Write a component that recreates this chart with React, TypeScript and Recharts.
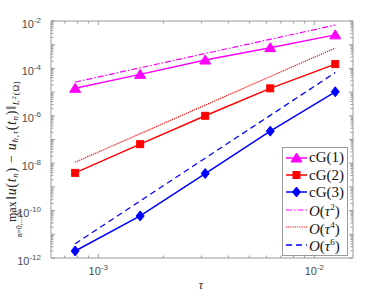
import { LineChart, Line, XAxis, YAxis, Legend, ReferenceLine } from "recharts";

// time step sizes
const tau = [0.00078125, 0.0015625, 0.003125, 0.00625, 0.0125];

// errors for each scheme
const cg1 = [1.44e-5, 5.6e-5, 2.25e-4, 7.5e-4, 2.6e-3];
const cg2 = [3.9e-9, 6.35e-8, 1.0e-6, 1.44e-5, 1.52e-4];
const cg3 = [1.98e-12, 5.96e-11, 3.66e-9, 2.25e-7, 1.03e-5];

// reference slopes
const ord2 = [2.65e-5, 1.06e-4, 4.24e-4, 1.69e-3, 6.78e-3];
const ord4 = [1.1e-8, 1.77e-7, 2.83e-6, 4.52e-5, 7.23e-4];
const ord6 = [3.98e-12, 2.54e-10, 1.63e-8, 1.04e-6, 6.67e-5];

const xTicks = [7e-4, 8e-4, 9e-4, 1e-3, 2e-3, 3e-3, 4e-3, 5e-3, 6e-3, 7e-3, 8e-3, 9e-3, 1e-2];
const yDecades = [-12, -11, -10, -9, -8, -7, -6, -5, -4, -3];
const yLabelled = [-12, -10, -8, -6, -4, -2];
const mantissas = [1, 2, 3, 4, 5, 6, 7, 8, 9];

const yTicks = [
  ...yDecades.flatMap((e) => mantissas.map((m) => Number((m * Math.pow(10, e)).toPrecision(3)))),
  1e-2,
];

const data = tau.map((t, i) => ({
  tau: t,
  cg1: cg1[i],
  cg2: cg2[i],
  cg3: cg3[i],
  ord2: ord2[i],
  ord4: ord4[i],
  ord6: ord6[i],
}));

const W = 389;
const H = 292;
const M = { top: 21, right: 36, bottom: 0, left: 0 };
const Y_AXIS_W = 51;
const X_AXIS_H = 34;
const PLOT_W = W - M.left - M.right - Y_AXIS_W;
const PLOT_H = H - M.top - M.bottom - X_AXIS_H;

const AXIS = "#9a9a9a";
const TICK_TEXT = "#4d4d4d";
const SANS = "'Liberation Sans Narrow', 'Liberation Sans', Arial, sans-serif";
const SERIF = "'Liberation Serif', 'DejaVu Serif', serif";

const MAGENTA = "#ff00ff";
const RED = "#ff0000";
const BLUE = "#0000ff";

type MarkerKind = "triangle" | "square" | "diamond" | "none";

const series = [
  { key: "cg1", name: "cG(1)", color: MAGENTA, dash: undefined, width: 1.5, marker: "triangle" as MarkerKind },
  { key: "cg2", name: "cG(2)", color: RED, dash: undefined, width: 1.5, marker: "square" as MarkerKind },
  { key: "cg3", name: "cG(3)", color: BLUE, dash: undefined, width: 1.5, marker: "diamond" as MarkerKind },
  { key: "ord2", name: "2", color: MAGENTA, dash: "6 2 1.5 2", width: 1.2, marker: "none" as MarkerKind },
  { key: "ord4", name: "4", color: RED, dash: "1.2 1", width: 1.2, marker: "none" as MarkerKind },
  { key: "ord6", name: "6", color: BLUE, dash: "6 4", width: 1.3, marker: "none" as MarkerKind },
];

const isMajor = (v: number) => {
  const lg = Math.log10(v);
  return Math.abs(lg - Math.round(lg)) < 1e-6;
};

const Marker = ({ kind, cx, cy, color }: { kind: MarkerKind; cx: number; cy: number; color: string }) => {
  if (kind === "triangle") {
    return <polygon points={`${cx},${cy - 5} ${cx - 5.5},${cy + 4} ${cx + 5.5},${cy + 4}`} fill={color} stroke={color} />;
  }
  if (kind === "square") {
    return <rect x={cx - 3.5} y={cy - 3.5} width={7} height={7} fill={color} stroke={color} />;
  }
  if (kind === "diamond") {
    return <polygon points={`${cx},${cy - 5} ${cx + 4},${cy} ${cx},${cy + 5} ${cx - 4},${cy}`} fill={color} stroke={color} />;
  }
  return null;
};

const XTick = (props: any) => {
  const { x, y, payload } = props;
  const v = payload.value;
  const major = isMajor(v);
  const len = major ? 4 : 2.5;
  return (
    <g>
      <line x1={x} y1={y} x2={x} y2={y - len} stroke={AXIS} />
      <line x1={x} y1={y - PLOT_H} x2={x} y2={y - PLOT_H + len} stroke={AXIS} />
      {major && (
        <text x={x} y={y + 16.5} textAnchor="middle" fontFamily={SANS} fontSize={11} fill={TICK_TEXT}>
          <tspan>10</tspan>
          <tspan dy={-5} fontSize={8}>{Math.round(Math.log10(v))}</tspan>
        </text>
      )}
    </g>
  );
};

const YTick = (props: any) => {
  const { x, y, payload } = props;
  const v = payload.value;
  const major = isMajor(v);
  const exp = Math.round(Math.log10(v));
  const len = major ? 4 : 2.5;
  return (
    <g>
      <line x1={x} y1={y} x2={x + len} y2={y} stroke={AXIS} />
      <line x1={x + PLOT_W} y1={y} x2={x + PLOT_W - len} y2={y} stroke={AXIS} />
      {major && yLabelled.includes(exp) && (
        <text x={x - 10} y={y + 6.5} textAnchor="end" fontFamily={SANS} fontSize={11} fill={TICK_TEXT}>
          <tspan>10</tspan>
          <tspan dy={-5} fontSize={8}>{exp}</tspan>
        </text>
      )}
    </g>
  );
};

const YLabel = () => (
  <g fill="#262626" fontFamily={SERIF}>
    <text transform="rotate(-90)" x={-222} y={16} fontSize={12}>max</text>
    <text transform="rotate(-90)" x={-237} y={22} fontSize={7.5}>n=0,...,N</text>
    <text transform="rotate(-90)" x={-200} y={16} fontSize={14} letterSpacing={0.7}>
      <tspan>‖</tspan>
      <tspan fontStyle="italic">u</tspan>
      <tspan>(</tspan>
      <tspan fontStyle="italic">t</tspan>
      <tspan fontSize={9} dy={2} fontStyle="italic">n</tspan>
      <tspan dy={-2}>) − </tspan>
      <tspan fontStyle="italic">u</tspan>
      <tspan fontSize={9} dy={2} fontStyle="italic">h,τ</tspan>
      <tspan dy={-2}>(</tspan>
      <tspan fontStyle="italic">t</tspan>
      <tspan fontSize={9} dy={2} fontStyle="italic">n</tspan>
      <tspan dy={-2}>)‖</tspan>
      <tspan fontSize={9} dy={3} fontStyle="italic">L</tspan>
      <tspan fontSize={7} dy={-3}>2</tspan>
      <tspan fontSize={9} dy={3}>(Ω)</tspan>
    </text>
  </g>
);

const XLabel = () => (
  <text x={M.left + Y_AXIS_W + PLOT_W / 2 - 1} y={289} textAnchor="middle" fontFamily={SERIF} fontStyle="italic" fontSize={12} fill="#262626">
    τ
  </text>
);

const LegendBox = () => (
  <div
    style={{
      border: `1px solid ${AXIS}`,
      background: "#fff",
      padding: "1px 3px 2px 2px",
      fontFamily: SERIF,
      fontSize: 15,
      color: "#111",
    }}
  >
    {series.map((s) => (
      <div key={s.key} style={{ display: "flex", alignItems: "center", height: 17.4 }}>
        <svg width={23} height={14} style={{ display: "block" }}>
          <line x1={1} y1={7} x2={22} y2={7} stroke={s.color} strokeWidth={s.width} strokeDasharray={s.dash} />
          <Marker kind={s.marker} cx={11.5} cy={7} color={s.color} />
        </svg>
        <span style={{ marginLeft: 1, lineHeight: "17px", whiteSpace: "nowrap" }}>
          {s.marker !== "none" ? (
            s.name
          ) : (
            <>
              <i>O</i>(<i>τ</i>
              <sup style={{ fontSize: 9, verticalAlign: "6px" }}>{s.name}</sup>)
            </>
          )}
        </span>
      </div>
    ))}
  </div>
);

export default function App() {
  return (
    <div style={{ position: "absolute", left: 0, top: 0, background: "#fff" }}>
      <LineChart width={W} height={H} data={data} margin={M}>
        <XAxis
          dataKey="tau"
          type="number"
          scale="log"
          domain={[6.04e-4, 1.51e-2]}
          allowDataOverflow
          ticks={xTicks}
          interval={0}
          tick={<XTick />}
          tickLine={false}
          tickSize={0}
          tickMargin={0}
          axisLine={{ stroke: AXIS }}
          height={X_AXIS_H}
          label={<XLabel />}
        />
        <YAxis
          type="number"
          scale="log"
          domain={[1e-12, 1e-2]}
          allowDataOverflow
          ticks={yTicks}
          interval={0}
          tick={<YTick />}
          tickLine={false}
          tickSize={0}
          tickMargin={0}
          axisLine={{ stroke: AXIS }}
          width={Y_AXIS_W}
          label={<YLabel />}
        />
        <ReferenceLine y={1e-2} stroke={AXIS} />
        <ReferenceLine x={1.51e-2} stroke={AXIS} />
        {series.map((s) => (
          <Line
            key={s.key}
            dataKey={s.key}
            name={s.name}
            stroke={s.color}
            strokeWidth={s.width}
            strokeDasharray={s.dash}
            isAnimationActive={false}
            dot={
              s.marker === "none"
                ? false
                : (p: any) => <Marker key={`${s.key}-${p.index}`} kind={s.marker} cx={p.cx} cy={p.cy} color={s.color} />
            }
            activeDot={false}
          />
        ))}
        <Legend
          layout="vertical"
          align="center"
          verticalAlign="middle"
          content={() => <LegendBox />}
          wrapperStyle={{ left: 282, top: 147, width: "auto", height: "auto" }}
        />
      </LineChart>
    </div>
  );
}
